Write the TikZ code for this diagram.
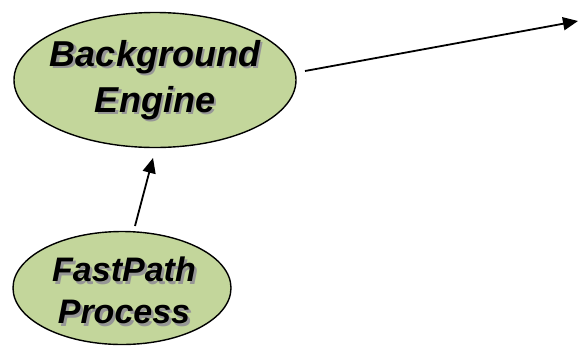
\documentclass[tikz,border=0pt]{standalone}
\usepackage{fontspec}
\setmainfont{Liberation Sans}
\usetikzlibrary{shapes.geometric,arrows.meta}
\definecolor{procfill}{RGB}{195,214,155}
\definecolor{shadowgray}{RGB}{150,150,150}
% text with a soft grey drop shadow behind it
\newcommand{\shtext}[1]{\makebox[0pt][l]{\hspace{2.5pt}\raisebox{-2.5pt}{\textcolor{shadowgray}{#1}}}#1}
\tikzset{
  proc/.style={ellipse, draw=black, line width=1.4pt, fill=procfill},
  proclabel/.style={align=center, inner sep=0pt},
  flow/.style={line width=1.8pt, -{Triangle[length=15pt,width=13pt]}}
}
\begin{document}
\begin{tikzpicture}[x=1pt,y=-1pt]
  \useasboundingbox (0,0) rectangle (578,349);
  % Background Engine
  \node[proc, minimum width=282pt, minimum height=135pt] (be) at (155,80) {};
  \node[proclabel, font=\fontsize{36}{46}\selectfont\bfseries\itshape]
    (bet) at (155,81) {\shtext{Background}\\\shtext{Engine}};
  % FastPath Process
  \node[proc, minimum width=218pt, minimum height=113pt] (fp) at (122,288) {};
  \node[proclabel, font=\fontsize{34}{42}\selectfont\bfseries\itshape]
    (fpt) at (124,292) {\shtext{FastPath}\\\shtext{Process}};
  % connector ends
  \coordinate (fpout) at (135,226);
  \coordinate (bein) at (153,158);
  \coordinate (beout) at (305,71);
  \coordinate (ext) at (578,21);
  \draw[flow] (fpout) -- (bein);
  \draw[flow] (beout) -- (ext);
\end{tikzpicture}
\end{document}
